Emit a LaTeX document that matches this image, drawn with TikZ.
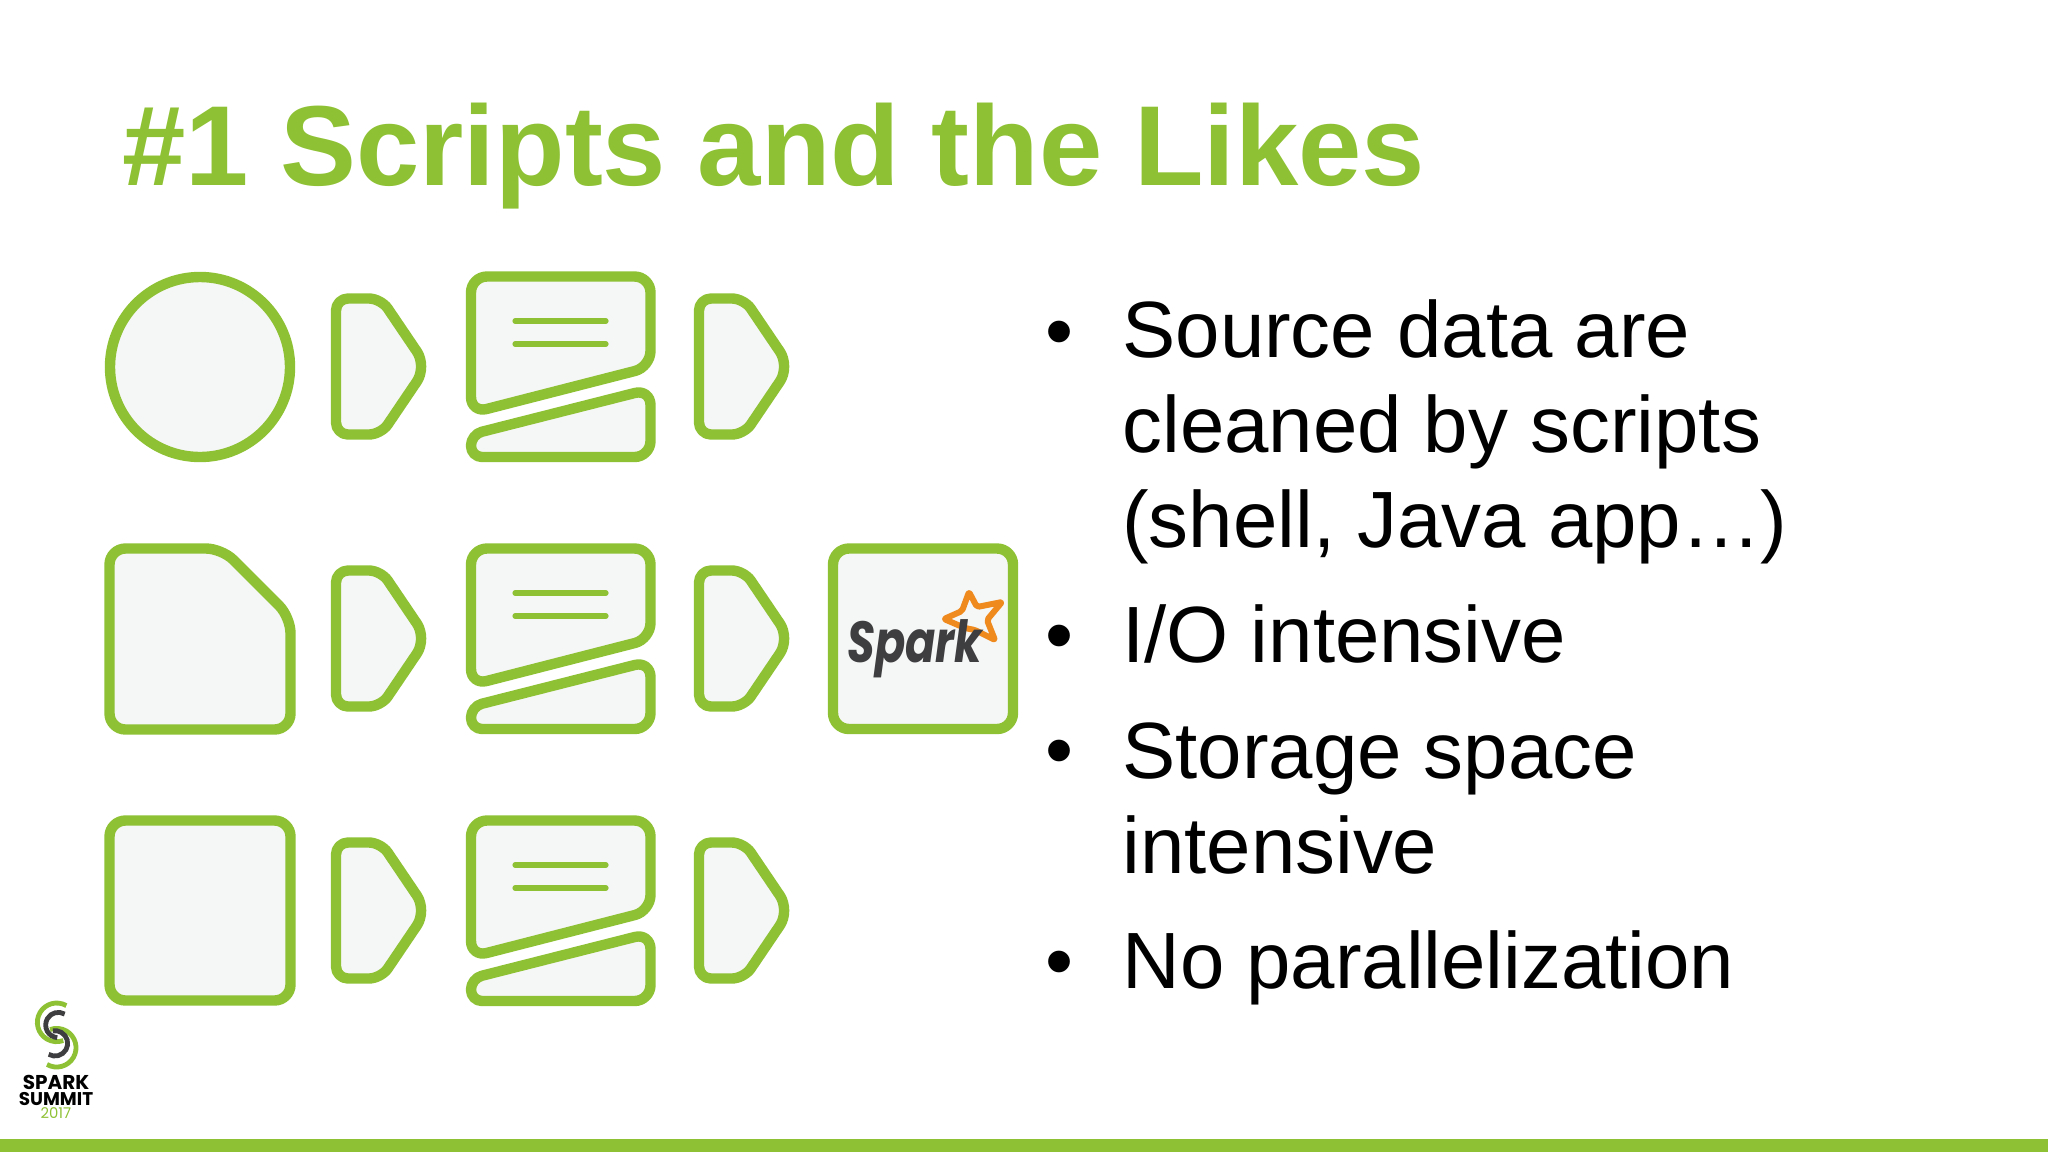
\documentclass[tikz,border=0pt]{standalone}
\usepackage{fontspec}
\setmainfont{Liberation Sans}
\newfontfamily\logofont{Poppins}
\usetikzlibrary{positioning}

\definecolor{sparkgreen}{HTML}{8EC134}
\definecolor{sparkfill}{HTML}{F5F6F6}
\definecolor{sparkorange}{HTML}{EE8A1E}
\definecolor{sparkdark}{HTML}{3E3E40}

\tikzset{
  icon/.style={draw=sparkgreen,fill=sparkfill,line width=5.2pt,line join=round,rounded corners=#1},
  icon/.default=8pt,
  textline/.style={draw=sparkgreen,line width=2.6pt,line cap=round},
  titletext/.style={anchor=base west,inner sep=0pt,text=sparkgreen,font=\fontsize{56.9}{66}\selectfont\bfseries},
  bodytext/.style={anchor=base west,inner sep=0pt,text=black,align=left,font=\fontsize{39.9}{47.5}\selectfont},
  bullet/.style={anchor=base west,inner sep=0pt,text=black,font=\fontsize{40}{47.5}\selectfont},
  logotext/.style={anchor=base,inner sep=0pt,text=#1,font=\logofont\bfseries\fontsize{9.4}{10}\selectfont},
  logotext/.default=black,
  logoarc/.style={draw=#1,line width=2.4pt}
}

\begin{document}
\begin{tikzpicture}[x=0.5pt,y=-0.5pt]
        \useasboundingbox (0,0) rectangle (2048,1152);

        % bottom bar
        \fill[sparkgreen] (0,1139) rectangle (2048,1152);

        % title
        \node[titletext] (title) at (122,185) {\#1 Scripts and the Likes};

        % sources
        \draw[icon] (200,367) circle [radius=90];
        \draw[icon] (109.5,548.5) -- (222,548.5) -- (290.5,617) -- (290.5,729.5) -- (109.5,729.5) -- cycle;
        \draw[icon] (109.5,820.5) rectangle (290.5,1000.5);

        % script and arrows of each row
        \foreach \row in {0,1,2} {
          \begin{scope}[shift={(0,272*\row)}]
            \foreach \dx in {0,363}
              \draw[icon=6pt] (336+\dx,298.5) -- (381+\dx,298.5) [rounded corners=9pt] -- (427+\dx,366.5) [rounded corners=6pt] -- (381+\dx,434.5) -- (336+\dx,434.5) -- cycle;
            \draw[icon] (471,276.5) -- (650.5,276.5) -- (650.5,367) -- (471,413) -- cycle;
            \draw[icon=5.5pt] (471,434.5) [rounded corners=8pt] -- (650.5,389) -- (650.5,457) [rounded corners=5.5pt] -- (471,457) -- cycle;
            \draw[textline] (515,321) -- (606,321);
            \draw[textline] (515,344) -- (606,344);
          \end{scope}
        }

        % spark box
        \draw[icon] (833,548.5) rectangle (1013,729);
        \draw[draw=sparkorange,fill=sparkfill,line width=3pt,line join=round,rounded corners=1pt]
          (969,592) -- (977,607) -- (1002,602) -- (987,620) -- (995,640) -- (975,630) -- (965,628) -- (944,619) -- (962,611) -- cycle;
        \node[anchor=base,inner sep=0pt,text=sparkdark,font=\logofont\bfseries\itshape\fontsize{29}{32}\selectfont] (spark) at (915,662) {\scalebox{0.77}[1]{Spark}};

        % bullets
        \node[bullet] (bulletone) at (1045,358) {\textbullet};
        \node[bodytext] (cleaned) at (1122,547) {Source data are\\cleaned by scripts\\(shell, Java app\ldots)};
        \node[bullet] (bullettwo) at (1045,662) {\textbullet};
        \node[bodytext] (intensive) at (1122,662) {I/O intensive};
        \node[bullet] (bulletthree) at (1045,777) {\textbullet};
        \node[bodytext] (storage) at (1122,873) {Storage space\\intensive};
        \node[bullet] (bulletfour) at (1045,988) {\textbullet};
        \node[bodytext] (parallel) at (1122,988) {No parallelization};

        % summit logo
        \begin{scope}[shift={(0,980)},x=0.1667pt,y=-0.1667pt]
          \draw[logoarc=sparkgreen] (170,127) ++(-60:58) arc (-60:-290:58);
          \draw[logoarc=sparkgreen] (170,203) ++(120:58) arc (120:-110:58);
          \draw[logoarc=sparkdark] (175,135) ++(-60:38) arc (-60:-265:38);
          \draw[logoarc=sparkdark] (165,190) ++(120:38) arc (120:-100:38);
        \end{scope}
        \node[logotext,font=\logofont\bfseries\fontsize{10}{10}\selectfont] (logospark) at (56,1089) {SPARK};
        \node[logotext,font=\logofont\bfseries\fontsize{9.2}{10}\selectfont] (logosummit) at (56,1105) {SUMMIT};
        \node[logotext=sparkgreen,font=\logofont\fontsize{7.4}{8}\selectfont] (logoyear) at (56,1118) {2017};
\end{tikzpicture}
\end{document}
